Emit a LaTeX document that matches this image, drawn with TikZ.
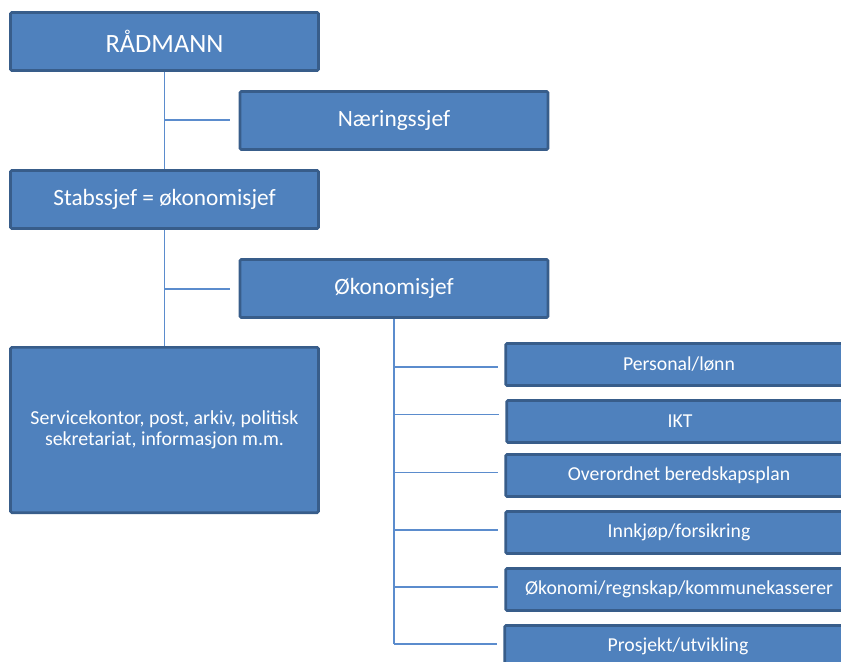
\documentclass[tikz,border=0pt]{standalone}
\usepackage{fontspec}
\setmainfont{Carlito}
\usepackage{tikz}
\usetikzlibrary{positioning}
\definecolor{boxfill}{RGB}{79,129,189}
\definecolor{boxedge}{RGB}{56,93,138}
\definecolor{linkblue}{RGB}{91,140,205}

\begin{document}
\begin{tikzpicture}[
x=0.75pt, y=-0.75pt,
box/.style={draw=boxedge, fill=boxfill, line width=2pt, rounded corners=1pt, text=white, align=center, inner sep=2pt},
bigbox/.style={box, minimum width=231pt, minimum height=43.5pt},
unitbox/.style={box, minimum width=260pt, minimum height=31.5pt, font=\fontsize{14.8}{17}\selectfont},
link/.style={draw=linkblue, line width=1.1pt}
]
    \useasboundingbox (0,0) rectangle (841,661);
    \clip (0,0) rectangle (841,661);

    % Top of the chart
    \node[bigbox, font=\fontsize{19.8}{22}\selectfont] (raadmann) at (164.5,41.5) {RÅDMANN};
    \node[bigbox, font=\fontsize{17.5}{20}\selectfont] (naering) at (394,120.5) {Næringssjef};
    \node[bigbox, font=\fontsize{17.5}{20}\selectfont] (stab) at (164.5,199.5) {Stabssjef = økonomisjef};
    \node[bigbox, font=\fontsize{17.5}{20}\selectfont] (okonomi) at (394,288.5) {Økonomisjef};
    \node[bigbox, minimum height=124pt, font=\fontsize{14.9}{16}\selectfont] (service) at (164.5,430)
        {Servicekontor, post, arkiv, politisk\\sekretariat, informasjon m.m.};

    % Units under Økonomisjef
    \node[unitbox] (personal) at (679,364.5) {Personal/lønn};
    \node[unitbox] (ikt) at (680,421.5) {IKT};
    \node[unitbox] (beredskap) at (679,475.5) {Overordnet beredskapsplan};
    \node[unitbox] (innkjop) at (679,532.5) {Innkjøp/forsikring};
    \node[unitbox] (regnskap) at (679,589.5) {Økonomi/regnskap/kommunekasserer};
    \node[unitbox] (prosjekt) at (678,646.5) {Prosjekt/utvikling};

    \draw
    (164.5,120) coordinate (b1)
    (164.5,289) coordinate (b2)
    (394,367) coordinate (c1)
    (394,414.5) coordinate (c2)
    (394,472.5) coordinate (c3)
    (394,530) coordinate (c4)
    (394,587) coordinate (c5)
    (394,644) coordinate (c6);

    \draw[link] (raadmann) -- (stab);
    \draw[link] (stab) -- (service);
    \draw[link, shorten >=6.75pt] (b1) -- (b1 -| naering.west);
    \draw[link, shorten >=6.75pt] (b2) -- (b2 -| okonomi.west);

    \draw[link] (okonomi.south) -- (c6);
    \draw[link, shorten >=4.5pt] (c1) -- (c1 -| personal.west);
    \draw[link, shorten >=4.5pt] (c2) -- (c2 -| ikt.west);
    \draw[link, shorten >=4.5pt] (c3) -- (c3 -| beredskap.west);
    \draw[link, shorten >=4.5pt] (c4) -- (c4 -| innkjop.west);
    \draw[link, shorten >=4.5pt] (c5) -- (c5 -| regnskap.west);
    \draw[link, shorten >=4.5pt] (c6) -- (c6 -| prosjekt.west);

\end{tikzpicture}
\end{document}
